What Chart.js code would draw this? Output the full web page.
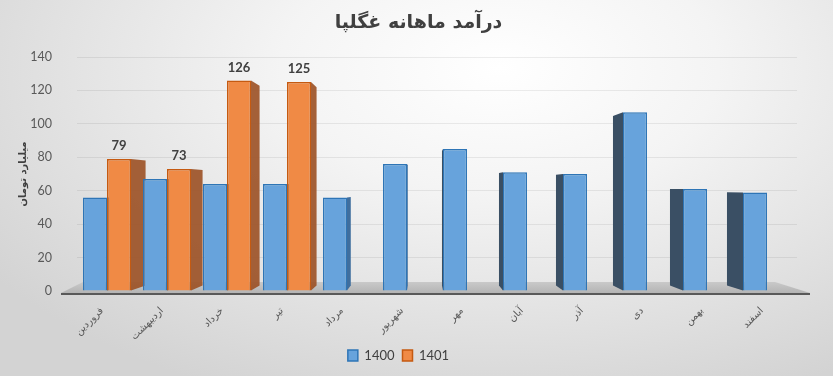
<!DOCTYPE html>
<html>
<head>
<meta charset="utf-8">
<script src="https://cdn.jsdelivr.net/npm/chart.js@4/dist/chart.umd.min.js"></script>
<style>
  body { margin: 0; }
  #wrap {
    width: 833px; height: 376px; position: relative;
    background: radial-gradient(ellipse 75% 95% at 60% 18%, #ffffff 0%, #f4f4f4 35%, #d3d3d3 100%);
  }
</style>
</head>
<body>
<div id="wrap"><canvas id="chart"></canvas></div>
<script>
// ---- data ----
const chartTitle = "درآمد ماهانه غگلپا";
const months = ["فروردین", "اردیبهشت", "خرداد", "تیر", "مرداد", "شهریور", "مهر", "آبان", "آذر", "دی", "بهمن", "اسفند"];
const seriesNames = ["1400", "1401"];
const income1400 = [56, 67, 64, 64, 56, 76, 85, 71, 70, 107, 61, 59];
const income1401 = [79, 73, 126, 125, null, null, null, null, null, null, null, null];
const yMin = 0, yMax = 140, yStep = 20;

const FONT = "Lato, 'DejaVu Sans', sans-serif";
const TEXT = "#404040";

// perspective helpers (fake 3D look like the excel chart)
function vanish(chart) {
  const a = chart.chartArea;
  return { x: a.left + 0.48 * (a.right - a.left), y: a.top + 0.56 * (a.bottom - a.top) };
}

// title drawn at the page centre (chart.js would centre it on the padded box)
const titlePlugin = {
  id: "centerTitle",
  afterDraw(chart) {
    const ctx = chart.ctx;
    ctx.save();
    ctx.font = "bold 19px 'DejaVu Sans', sans-serif";
    ctx.fillStyle = TEXT;
    ctx.textAlign = "center";
    ctx.textBaseline = "middle";
    ctx.fillText(chartTitle, chart.width / 2 + 2, 23);
    ctx.restore();
  }
};

// floor under the bars
const floorPlugin = {
  id: "floor",
  beforeDatasetsDraw(chart) {
    const ctx = chart.ctx, a = chart.chartArea;
    const y0 = chart.scales.y.getPixelForValue(0);
    ctx.save();
    const g = ctx.createLinearGradient(0, y0 - 9, 0, y0 + 2);
    g.addColorStop(0, "#c9c9c9");
    g.addColorStop(1, "#b4b4b4");
    ctx.fillStyle = g;
    ctx.beginPath();
    ctx.moveTo(a.left - 16, y0 + 2);
    ctx.lineTo(a.left + 6, y0 - 9);
    ctx.lineTo(a.right - 22, y0 - 9);
    ctx.lineTo(a.right + 13, y0 + 2);
    ctx.closePath();
    ctx.fill();
    ctx.strokeStyle = "#595959";
    ctx.lineWidth = 2;
    ctx.beginPath();
    ctx.moveTo(a.left - 16, y0 + 3);
    ctx.lineTo(a.right + 13, y0 + 3);
    ctx.stroke();
    ctx.restore();
  }
};

// side faces of the columns
const sidePlugin = {
  id: "sides",
  beforeDatasetsDraw(chart) {
    const ctx = chart.ctx;
    const vp = vanish(chart);
    const s = 0.05;
    ctx.save();
    chart.data.datasets.forEach((ds, di) => {
      const meta = chart.getDatasetMeta(di);
      meta.data.forEach((bar, i) => {
        if (ds.data[i] == null) return;
        const { x, y, base, width } = bar.getProps(["x", "y", "base", "width"], true);
        const l = x - width / 2, r = x + width / 2;
        let edge, color;
        if (r < vp.x) { edge = r; color = di === 1 ? "rgba(155,80,35,0.9)" : "#3f6e9e"; }
        else if (l > vp.x) { edge = l; color = di === 1 ? "rgba(155,80,35,0.9)" : "#3a4f64"; }
        else return;
        const bx = edge + (vp.x - edge) * s;
        const bt = y + (vp.y - y) * s;
        const bb = base + (vp.y - base) * s;
        ctx.fillStyle = color;
        ctx.beginPath();
        ctx.moveTo(edge, y);
        ctx.lineTo(bx, bt);
        ctx.lineTo(bx, bb);
        ctx.lineTo(edge, base);
        ctx.closePath();
        ctx.fill();
      });
    });
    ctx.restore();
  }
};

// value labels on the 1401 columns
const labelPlugin = {
  id: "valueLabels",
  afterDatasetsDraw(chart) {
    const ctx = chart.ctx;
    const meta = chart.getDatasetMeta(1);
    ctx.save();
    ctx.font = "bold 13px " + FONT;
    ctx.fillStyle = TEXT;
    ctx.textAlign = "center";
    ctx.textBaseline = "middle";
    meta.data.forEach((bar, i) => {
      const v = income1401[i];
      if (v == null) return;
      ctx.fillText(String(v), bar.x, bar.y - 13);
    });
    ctx.restore();
  }
};

Chart.defaults.font.family = FONT;
Chart.defaults.color = "#595959";

new Chart(document.getElementById("chart"), {
  type: "bar",
  data: {
    labels: months,
    datasets: [
      {
        label: seriesNames[0],
        data: income1400,
        backgroundColor: "#67a3dc",
        borderColor: "#2e75b6",
        borderWidth: 1.5
      },
      {
        label: seriesNames[1],
        data: income1401,
        backgroundColor: "#f08a45",
        borderColor: "#c55a11",
        borderWidth: 1.5
      }
    ]
  },
  options: {
    responsive: true,
    maintainAspectRatio: false,
    animation: false,
    layout: { padding: { top: 57, right: 36, bottom: 4, left: 0 } },
    datasets: { bar: { categoryPercentage: 0.8, barPercentage: 1.0 } },
    plugins: {
      title: { display: false },
      legend: {
        position: "bottom",
        labels: {
          boxWidth: 10, boxHeight: 11, padding: 8,
          color: TEXT,
          font: { size: 13 }
        }
      },
      tooltip: { enabled: false }
    },
    scales: {
      x: {
        grid: { display: false },
        border: { display: false },
        ticks: {
          minRotation: 45, maxRotation: 45,
          padding: 6, labelOffset: -5,
          font: { size: 10, family: "'DejaVu Sans', sans-serif" },
          color: "#595959"
        },
        afterFit(scale) { scale.height = 50; }
      },
      y: {
        min: yMin, max: yMax,
        ticks: { stepSize: yStep, padding: 25, font: { size: 12.5 }, color: "#595959" },
        grid: { color: "rgba(0,0,0,0.07)", drawTicks: false },
        border: { display: false },
        title: {
          display: true,
          text: "میلیارد تومان",
          color: TEXT,
          font: { size: 10, weight: "bold", family: "'DejaVu Sans', sans-serif" },
          padding: { top: 17, bottom: 0 }
        },
        afterFit(scale) { scale.width = 77; }
      }
    }
  },
  plugins: [floorPlugin, sidePlugin, labelPlugin, titlePlugin]
});
</script>
</body>
</html>
